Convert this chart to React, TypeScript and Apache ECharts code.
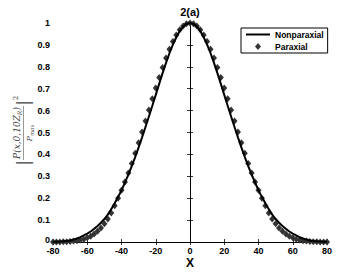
import React, { useEffect, useRef } from "react";
import * as echarts from "echarts";

const X_VALUES = [
  -80, -78, -76, -74, -72, -70, -68, -66, -64, -62, -60, -58, -56, -54, -52, -50, -48, -46, -44, -42,
  -40, -38, -36, -34, -32, -30, -28, -26, -24, -22, -20, -18, -16, -14, -12, -10, -8, -6, -4, -2,
  0, 2, 4, 6, 8, 10, 12, 14, 16, 18, 20, 22, 24, 26, 28, 30, 32, 34, 36, 38,
  40, 42, 44, 46, 48, 50, 52, 54, 56, 58, 60, 62, 64, 66, 68, 70, 72, 74, 76, 78, 80,
];

const NONPARAXIAL = [
  0.001, 0.001, 0.002, 0.003, 0.005, 0.007, 0.011, 0.016, 0.022, 0.030, 0.038, 0.048, 0.060, 0.073, 0.088, 0.105, 0.125, 0.150, 0.177, 0.205,
  0.236, 0.271, 0.308, 0.347, 0.388, 0.432, 0.478, 0.525, 0.573, 0.622, 0.672, 0.722, 0.771, 0.818, 0.862, 0.901, 0.935, 0.963, 0.984, 0.996,
  1.0, 0.996, 0.984, 0.963, 0.935, 0.901, 0.862, 0.818, 0.771, 0.722, 0.672, 0.622, 0.573, 0.525, 0.478, 0.432, 0.388, 0.347, 0.308, 0.271,
  0.236, 0.205, 0.177, 0.150, 0.125, 0.105, 0.088, 0.073, 0.060, 0.048, 0.038, 0.030, 0.022, 0.016, 0.011, 0.007, 0.005, 0.003, 0.002, 0.001, 0.001,
];

const PARAXIAL = [
  0.0, 0.0, 0.0, 0.001, 0.001, 0.002, 0.004, 0.006, 0.009, 0.013, 0.019, 0.026, 0.036, 0.049, 0.064, 0.083, 0.105, 0.132, 0.165, 0.2,
  0.236, 0.274, 0.315, 0.359, 0.405, 0.453, 0.502, 0.552, 0.603, 0.654, 0.703, 0.751, 0.797, 0.84, 0.88, 0.915, 0.945, 0.969, 0.986, 0.997,
  1.0, 0.997, 0.986, 0.969, 0.945, 0.915, 0.88, 0.84, 0.797, 0.751, 0.703, 0.654, 0.603, 0.552, 0.502, 0.453, 0.405, 0.359, 0.315, 0.274,
  0.236, 0.2, 0.165, 0.132, 0.105, 0.083, 0.064, 0.049, 0.036, 0.026, 0.019, 0.013, 0.009, 0.006, 0.004, 0.002, 0.001, 0.001, 0.0, 0.0, 0.0,
];

const TITLE = "2(a)";
const X_LABEL = "X";
const SERIES_NAMES = ["Nonparaxial", "Paraxial"];

const FONT = "'Liberation Sans', Arial, sans-serif";
const SERIF = "'DejaVu Serif', 'Liberation Serif', serif";

export default function App() {
  const ref = useRef<HTMLDivElement>(null);

  useEffect(() => {
    if (!ref.current) return;
    const chart = echarts.init(ref.current, undefined, { renderer: "svg" });

    const axisCommon = {
      type: "value" as const,
      axisLine: { show: true, lineStyle: { color: "#000", width: 1 } },
      axisTick: { show: true, inside: true, length: 3, lineStyle: { color: "#000", width: 0.8 } },
      splitLine: { show: false },
    };
    const labelStyle = { color: "#000", fontWeight: "bold" as const, fontSize: 9, fontFamily: FONT };

    const italic = { fontStyle: "italic" as const, fontFamily: SERIF, fontSize: 9, fill: "#444" };

    chart.setOption({
      animation: false,
      backgroundColor: "#fff",
      grid: { left: 53, right: 35, top: 23, bottom: 31, containLabel: false },
      xAxis: [
        {
          ...axisCommon,
          min: -80,
          max: 80,
          interval: 20,
          position: "bottom",
          axisLabel: { ...labelStyle, margin: 5, lineHeight: 8 },
        },
        {
          ...axisCommon,
          min: -80,
          max: 80,
          interval: 20,
          position: "top",
          axisLabel: { show: false },
        },
      ],
      yAxis: [
        {
          ...axisCommon,
          min: 0,
          max: 1,
          interval: 0.1,
          position: "left",
          axisLabel: {
            ...labelStyle,
            margin: 3,
            lineHeight: 7,
            formatter: (v: number) => (v === 0 ? "{z|0}" : String(Math.round(v * 10) / 10)),
            rich: { z: { ...labelStyle, lineHeight: 7, padding: [0, 0, 4, 0] } },
          },
        },
        {
          ...axisCommon,
          min: 0,
          max: 1,
          interval: 0.1,
          position: "right",
          axisLabel: { show: false },
        },
      ],
      legend: {
        left: 241,
        top: 28,
        orient: "vertical",
        backgroundColor: "#fff",
        borderColor: "#000",
        borderWidth: 1,
        borderRadius: 0,
        padding: [2, 4, 2, 5],
        itemGap: 3,
        itemWidth: 24,
        itemHeight: 7,
        textStyle: { color: "#000", fontWeight: "bold", fontSize: 8.5, fontFamily: FONT },
        data: [
          { name: SERIES_NAMES[0], icon: "path://M0,0L24,0L24,2L0,2Z", itemStyle: { color: "#000" } },
          { name: SERIES_NAMES[1], icon: "path://M3,0L6,3.5L3,7L0,3.5Z", itemStyle: { color: "#333" } },
        ],
      },
      series: [
        {
          name: SERIES_NAMES[0],
          type: "line",
          data: X_VALUES.map((x, i) => [x, NONPARAXIAL[i]]),
          symbol: "none",
          lineStyle: { color: "#000", width: 2 },
          itemStyle: { color: "#000" },
          z: 3,
        },
        {
          name: SERIES_NAMES[1],
          type: "scatter",
          data: X_VALUES.map((x, i) => [x, PARAXIAL[i]]),
          symbol: "diamond",
          symbolSize: [6, 7],
          itemStyle: { color: "#333", opacity: 1 },
          clip: false,
          z: 2,
        },
      ],
      graphic: [
        {
          type: "text",
          x: 190,
          y: 12,
          style: {
            text: TITLE,
            fontSize: 11,
            fontWeight: "bold",
            fontFamily: FONT,
            fill: "#000",
            align: "center",
            verticalAlign: "middle",
          },
        },
        {
          type: "text",
          x: 190,
          y: 263,
          style: {
            text: X_LABEL,
            fontSize: 12,
            lineHeight: 11,
            fontWeight: "bold",
            fontFamily: FONT,
            fill: "#000",
            align: "center",
            verticalAlign: "middle",
          },
        },
        {
          type: "group",
          x: 23,
          y: 133,
          rotation: Math.PI / 2,
          children: [
            {
              type: "text",
              x: 0,
              y: -1,
              style: {
                text: "{a|P(x,0,10Z}{s|R}{a|)}",
                align: "center",
                verticalAlign: "bottom",
                rich: {
                  a: { ...italic, fill: "#444" },
                  s: { ...italic, fontSize: 6, padding: [4, 0, 0, 0] },
                },
              },
            },
            {
              type: "line",
              shape: { x1: -27, y1: 0.5, x2: 27, y2: 0.5 },
              style: { stroke: "#555", lineWidth: 0.6 },
            },
            {
              type: "text",
              x: 0,
              y: 1.5,
              style: {
                text: "{a|P}{s|max}",
                align: "center",
                verticalAlign: "top",
                rich: {
                  a: { ...italic, fontSize: 8 },
                  s: { ...italic, fontSize: 5.5, padding: [4, 0, 0, 0] },
                },
              },
            },
            {
              type: "text",
              x: -30,
              y: 0,
              style: { text: "|", ...italic, fontStyle: "normal", fontSize: 17, align: "center", verticalAlign: "middle" },
            },
            {
              type: "text",
              x: 30,
              y: 0,
              style: { text: "|", ...italic, fontStyle: "normal", fontSize: 17, align: "center", verticalAlign: "middle" },
            },
            {
              type: "text",
              x: 35,
              y: -7,
              style: { text: "2", ...italic, fontStyle: "normal", fontSize: 7, align: "center", verticalAlign: "middle" },
            },
          ],
        },
      ],
    });

    return () => chart.dispose();
  }, []);

  return <div ref={ref} style={{ position: "absolute", left: 0, top: 0, width: 362, height: 273 }} />;
}
